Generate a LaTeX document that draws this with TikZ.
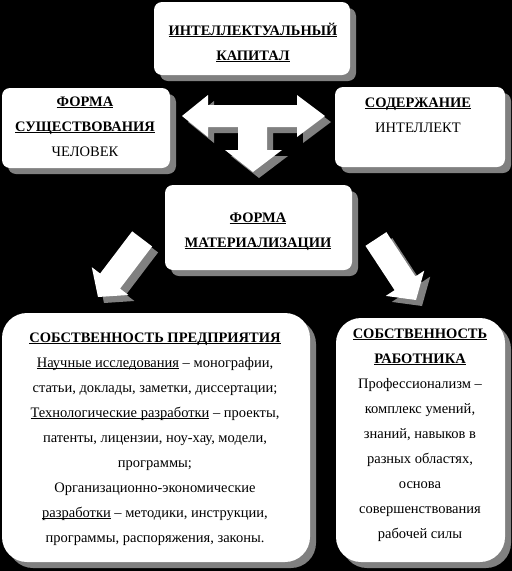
\documentclass[tikz,border=0pt]{standalone}
\usepackage{fontspec}
\setmainfont{Liberation Serif}
\usetikzlibrary{shadows}
\definecolor{shadowgray}{RGB}{128,128,128}
\newcommand\ulx[1]{\underline{\smash{#1}}}
\newcommand\hd[1]{\underline{\smash{\textbf{#1}}}}
\tikzset{
  box/.style={fill=white, draw=none, rounded corners=#1, inner sep=0pt,
    drop shadow={shadow xshift=6pt, shadow yshift=-6pt, fill=shadowgray, opacity=1}},
  box/.default=8pt,
  txt/.style={anchor=base, align=center, inner sep=0pt, font=\fontsize{14.5}{25}\selectfont},
  arrowfill/.style={fill=white},
  arrowshadow/.style={fill=shadowgray},
}
\begin{document}
\begin{tikzpicture}[x=1pt, y=-1pt]
\fill[black] (0,0) rectangle (512,571);
\useasboundingbox (0,0) rectangle (512,571);

% boxes
\node[box, minimum width=196pt, minimum height=73pt] (cap) at (252,38.5) {};
\node[box, minimum width=168pt, minimum height=80pt] (exist) at (86,128) {};
\node[box, minimum width=170pt, minimum height=80pt] (content) at (420,127) {};
\node[box, minimum width=187pt, minimum height=85pt] (mat) at (258.5,227.5) {};
\node[box=25pt, minimum width=308pt, minimum height=249pt] (ent) at (156,437.5) {};
\node[box=25pt, minimum width=169pt, minimum height=244pt] (work) at (420.5,440) {};

% texts (base anchor = baseline of last line)
\node[txt] (capT) at (253,60) {\hd{ИНТЕЛЛЕКТУАЛЬНЫЙ}\\\hd{КАПИТАЛ}};
\node[txt] (existT) at (85,156) {\hd{ФОРМА}\\\hd{СУЩЕСТВОВАНИЯ}\\ЧЕЛОВЕК};
\node[txt] (contentT) at (418,132) {\hd{СОДЕРЖАНИЕ}\\ИНТЕЛЛЕКТ};
\node[txt] (matT) at (258,247) {\hd{ФОРМА}\\\hd{МАТЕРИАЛИЗАЦИИ}};
\node[txt] (entT) at (155,542) {\hd{СОБСТВЕННОСТЬ ПРЕДПРИЯТИЯ}\\
  \ulx{Научные исследования} – монографии,\\
  статьи, доклады, заметки, диссертации;\\
  \ulx{Технологические разработки} – проекты,\\
  патенты, лицензии, ноу-хау, модели,\\
  программы;\\
  Организационно-экономические\\
  \ulx{разработки} – методики, инструкции,\\
  программы, распоряжения, законы.};
\node[txt] (workT) at (420,538) {\hd{СОБСТВЕННОСТЬ}\\\hd{РАБОТНИКА}\\
  Профессионализм –\\
  комплекс умений,\\
  знаний, навыков в\\
  разных областях,\\
  основа\\
  совершенствования\\
  рабочей силы};

% T-shaped three-way arrow
\def\tarrow{(182,116) -- (208,95) -- (208,105) -- (297,105) -- (297,95) -- (325,116)
  -- (297,137) -- (297,127) -- (267,127) -- (267,150) -- (282,150) -- (253,172)
  -- (225,150) -- (238,150) -- (238,127) -- (208,127) -- (208,137) -- cycle}
\fill[arrowshadow, shift={(6,6)}] \tarrow;
\fill[arrowfill] \tarrow;

% diagonal arrows
\def\darrow{(0,0) -- (-20,23) -- (-20,12.5) -- (-73,12.5) -- (-73,-12.5) -- (-20,-12.5) -- (-20,-23) -- cycle}
\begin{scope}[shift={(104,303)}, rotate=232.8]
  \fill[arrowshadow] \darrow;
\end{scope}
\begin{scope}[shift={(98,297)}, rotate=232.8]
  \fill[arrowfill] \darrow;
\end{scope}
\begin{scope}[shift={(422,306)}, rotate=-56.7]
  \fill[arrowshadow] \darrow;
\end{scope}
\begin{scope}[shift={(416,300)}, rotate=-56.7]
  \fill[arrowfill] \darrow;
\end{scope}
\end{tikzpicture}
\end{document}
